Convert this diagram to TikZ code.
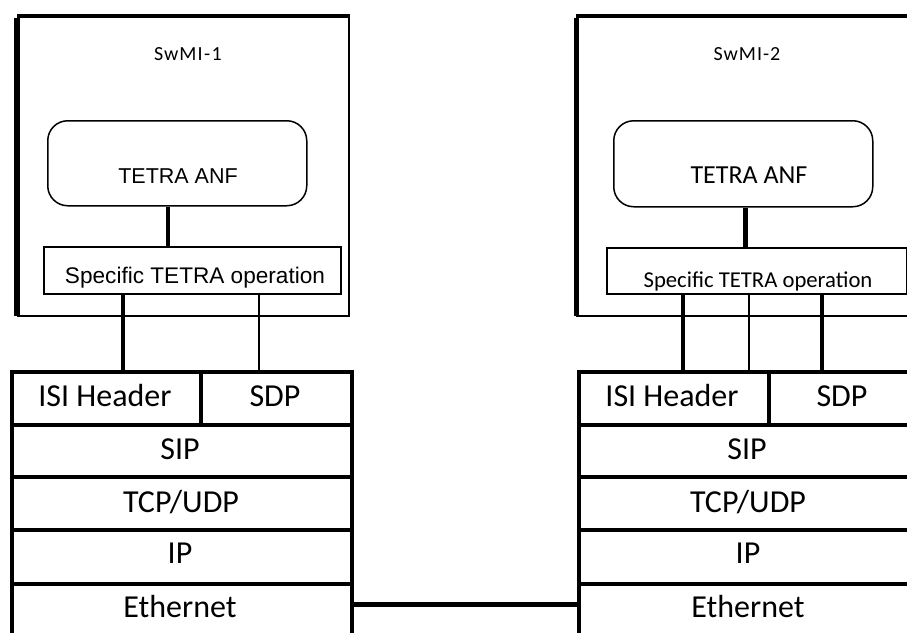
\documentclass[tikz,border=0pt]{standalone}
\usepackage{fontspec}
\setmainfont{Carlito}
\newfontfamily\arialf{Liberation Sans}
\newfontfamily\swmif[LetterSpace=5]{Carlito}
\begin{document}
\begin{tikzpicture}[x=1pt,y=-1pt,
  frame/.style={draw, line width=1.5pt, inner sep=0pt, anchor=north west},
  cell/.style={draw, line width=4pt, inner sep=0pt, anchor=north west},
  lbl/.style={anchor=base, inner sep=0pt, font=\fontsize{32}{38}\selectfont},
  thickc/.style={line width=4.5pt},
  thinc/.style={line width=1.5pt}]
\useasboundingbox (0,0) rectangle (907,632);
\clip (0,0) rectangle (907,632);
% SwMI frames
\node[frame, minimum width=331, minimum height=299] (swmi1) at (17,16) {};
\draw[line width=6pt] ([yshift=-2pt]swmi1.north west) -- ([yshift=1pt]swmi1.south west);
\draw[line width=4pt] (swmi1.north west) -- (swmi1.north east);
\node[frame, minimum width=400, minimum height=299] (swmi2) at (576,16) {};
\draw[line width=5pt] ([yshift=-2pt]swmi2.north west) -- ([yshift=1pt]swmi2.south west);
\draw[line width=4pt] (swmi2.north west) -- (swmi2.north east);
\node[anchor=base, inner sep=0pt, font=\swmif\fontsize{20}{24}\selectfont] (t1) at (188,60) {SwMI\kern1.5pt-\kern1.5pt1};
\node[anchor=base, inner sep=0pt, font=\swmif\fontsize{20}{24}\selectfont] (t2) at (747,60) {SwMI-2};
% TETRA ANF
\node[frame, rounded corners=20pt, minimum width=259, minimum height=85] (anf1) at (47,120) {};
\node[frame, rounded corners=20pt, minimum width=259, minimum height=86] (anf2) at (613,120) {};
\node[anchor=base, inner sep=0pt, font=\arialf\fontsize{21.5}{25}\selectfont] (tanf1) at (178,183) {TETRA ANF};
\node[anchor=base, inner sep=0pt, font=\fontsize{26}{30}\selectfont] (tanf2) at (749,183) {TETRA ANF};
% Specific TETRA operation
\node[frame, minimum width=297, minimum height=47] (spec1) at (43,246) {};
\node[frame, minimum width=300, minimum height=46] (spec2) at (606,247) {};
\node[anchor=base, inner sep=0pt, font=\arialf\fontsize{22.6}{26}\selectfont] (tspec1) at (195,283) {Specific TETRA operation};
\node[anchor=base, inner sep=0pt, font=\fontsize{22.7}{26}\selectfont] (tspec2) at (758,287) {Specific TETRA operation};
% Protocol stack left
\node[cell, minimum width=189, minimum height=53] (isi1) at (10,370) {};
\node[cell, minimum width=151, minimum height=53] (sdp1) at (199,370) {};
\node[cell, minimum width=340, minimum height=52] (sip1) at (10,423) {};
\node[cell, minimum width=340, minimum height=53] (tcp1) at (10,475) {};
\node[cell, minimum width=340, minimum height=54] (ip1) at (10,528) {};
\node[cell, minimum width=340, minimum height=60] (eth1) at (10,582) {};
\node[lbl] (tisi1) at (105,406) {ISI Header};
\node[lbl] (tsdp1) at (275,406) {SDP};
\node[lbl] (tsip1) at (180,459) {SIP};
\node[lbl] (ttcp1) at (181,512) {TCP/UDP};
\node[lbl] (tip1) at (180,563) {IP};
\node[lbl] (teth1) at (180,617) {Ethernet};
% Protocol stack right
\node[cell, minimum width=190, minimum height=53] (isi2) at (577,370) {};
\node[cell, minimum width=148, minimum height=53] (sdp2) at (767,370) {};
\node[cell, minimum width=338, minimum height=52] (sip2) at (577,423) {};
\node[cell, minimum width=338, minimum height=53] (tcp2) at (577,475) {};
\node[cell, minimum width=338, minimum height=54] (ip2) at (577,528) {};
\node[cell, minimum width=338, minimum height=60] (eth2) at (577,582) {};
\node[lbl] (tisi2) at (672,406) {ISI Header};
\node[lbl] (tsdp2) at (842,406) {SDP};
\node[lbl] (tsip2) at (747,459) {SIP};
\node[lbl] (ttcp2) at (748,512) {TCP/UDP};
\node[lbl] (tip2) at (748,563) {IP};
\node[lbl] (teth2) at (748,617) {Ethernet};
% connector x positions
\coordinate (a1) at (168,0);
\coordinate (a2) at (745,0);
\coordinate (l1) at (123,0);
\coordinate (l2) at (259,0);
\coordinate (r1) at (683,0);
\coordinate (r2) at (749,0);
\coordinate (r3) at (822,0);
\coordinate (ly) at (0,604);
\draw[thickc] (a1 |- anf1.south) -- (a1 |- spec1.north);
\draw[line width=5pt] (a2 |- anf2.south) -- (a2 |- spec2.north);
\draw[thickc] (l1 |- spec1.south) -- (l1 |- isi1.north);
\draw[thinc] (l2 |- spec1.south) -- (l2 |- sdp1.north);
\draw[thickc] (r1 |- spec2.south) -- (r1 |- isi2.north);
\draw[thinc] (r2 |- spec2.south) -- (r2 |- isi2.north);
\draw[thickc] (r3 |- spec2.south) -- (r3 |- sdp2.north);
\draw[line width=5pt] (eth1.east |- ly) -- (eth2.west |- ly);
\end{tikzpicture}
\end{document}
